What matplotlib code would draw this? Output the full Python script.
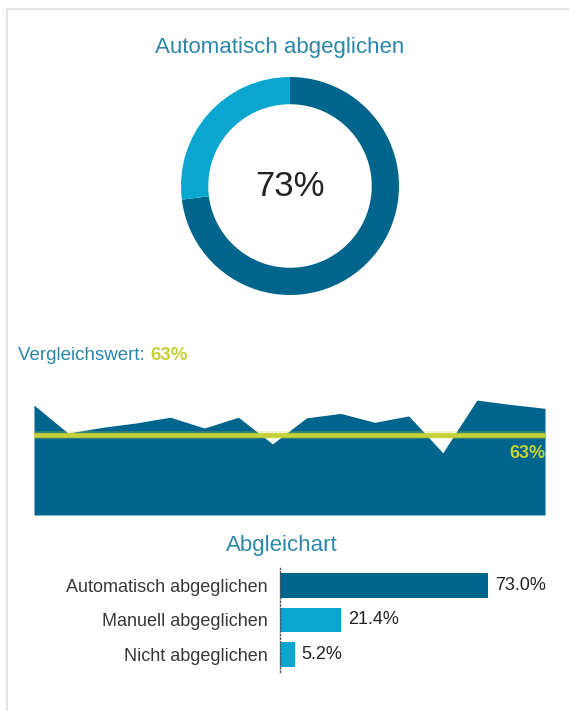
"""
Abgleich-Kachel: Donut mit Anteil automatisch abgeglichen, Flaechenverlauf
gegen den Vergleichswert und Balken nach Abgleichart.
"""

import matplotlib.pyplot as plt
from matplotlib.transforms import blended_transform_factory

W, H = 569, 711
OUTPUT_PATH = "out.png"

# --- data -------------------------------------------------------------------
DONUT_LABEL = "Automatisch abgeglichen"
DONUT_SHARE = [73, 27]

REFERENCE_VALUE = 63
TREND_VALUES = [86.5, 64.5, 69, 72.5, 77, 68.5, 77, 56, 76.5, 80, 73, 78, 49, 90.5, 87, 84]

BAR_TITLE = "Abgleichart"
BAR_CATEGORIES = ["Automatisch abgeglichen", "Manuell abgeglichen", "Nicht abgeglichen"]
BAR_VALUES = [73.0, 21.4, 5.2]

# --- style ------------------------------------------------------------------
DARK = "#00658c"
LIGHT = "#0aa6cf"
TITLE_COLOR = "#2b87a9"
YELLOW = "#c6d13a"
TEXT_COLOR = "#383838"
BORDER = "#e2e2e2"

plt.rcParams["font.family"] = ["Liberation Sans", "DejaVu Sans"]


def px_axes(fig, x0, y0, x1, y1):
    """Add axes from pixel box (top-left origin)."""
    return fig.add_axes([x0 / W, 1 - y1 / H, (x1 - x0) / W, (y1 - y0) / H])


fig = plt.figure(figsize=(W / 100, H / 100), dpi=100)

# background layer for titles and the card border
bg = px_axes(fig, 0, 0, W, H)
bg.set_xlim(0, W)
bg.set_ylim(H, 0)
bg.axis("off")
bg.plot([7.5, 7.5], [8.5, H], color=BORDER, lw=1.3)
bg.plot([7.5, W], [8.5, 8.5], color=BORDER, lw=1.3)

bg.text(280, 47, DONUT_LABEL, ha="center", va="center", fontsize=16, color=TITLE_COLOR)
t1 = bg.text(18, 355, "Vergleichswert: ", ha="left", va="center", fontsize=13.5, color=TITLE_COLOR)
bg.annotate(f"{REFERENCE_VALUE}%", xy=(1, 0.5), xycoords=t1, ha="left", va="center",
            fontsize=13.5, fontweight="bold", color=YELLOW)
bg.text(282, 546, BAR_TITLE, ha="center", va="center", fontsize=16, color=TITLE_COLOR)

# donut
ax_d = px_axes(fig, 181, 77, 399, 295)
ax_d.pie(DONUT_SHARE, colors=[DARK, LIGHT], startangle=90, counterclock=False,
         radius=1, wedgeprops=dict(width=0.25, linewidth=0))
ax_d.set_xlim(-1, 1)
ax_d.set_ylim(-1, 1)
ax_d.text(0, 0, f"{DONUT_SHARE[0]}%", ha="center", va="center", fontsize=25, color="#222222")

# trend area vs reference
ax_a = px_axes(fig, 34, 388, 545, 515)
x = range(len(TREND_VALUES))
ax_a.fill_between(x, 0, TREND_VALUES, color=DARK, linewidth=0)
ax_a.axhline(REFERENCE_VALUE, color=YELLOW, lw=5.5, alpha=0.3)
ax_a.axhline(REFERENCE_VALUE, color=YELLOW, lw=3.3)
ax_a.set_xlim(0, len(TREND_VALUES) - 1)
ax_a.set_ylim(0, 100)
ax_a.axis("off")
trans = blended_transform_factory(ax_a.transAxes, ax_a.transData)
ax_a.annotate(f"{REFERENCE_VALUE}%", xy=(1, REFERENCE_VALUE), xycoords=trans,
              xytext=(0, -13.3), textcoords="offset points", ha="right", va="center",
              fontsize=13, fontweight="bold", color=YELLOW)

# bars by type
ax_b = px_axes(fig, 280, 568, 537, 672)
bar_colors = [DARK, LIGHT, LIGHT]
ax_b.barh(range(len(BAR_VALUES)), BAR_VALUES, height=0.72, color=bar_colors)
for i, v in enumerate(BAR_VALUES):
    ax_b.annotate(f"{v:.1f}%", xy=(v, i), xytext=(5, 0), textcoords="offset points",
                  ha="left", va="center", fontsize=13, color="#222222")
ax_b.set_xlim(0, 90)
ax_b.set_ylim(2.5, -0.5)
ax_b.set_yticks(range(len(BAR_CATEGORIES)))
ax_b.set_yticklabels(BAR_CATEGORIES, fontsize=13, color=TEXT_COLOR)
ax_b.set_xticks([])
ax_b.tick_params(axis="y", length=0, pad=9)
for side in ["top", "right", "bottom"]:
    ax_b.spines[side].set_visible(False)
ax_b.spines["left"].set_linestyle(":")
ax_b.spines["left"].set_color("#555555")
ax_b.spines["left"].set_linewidth(1)
ax_b.set_facecolor("none")

fig.savefig(OUTPUT_PATH, dpi=100)
